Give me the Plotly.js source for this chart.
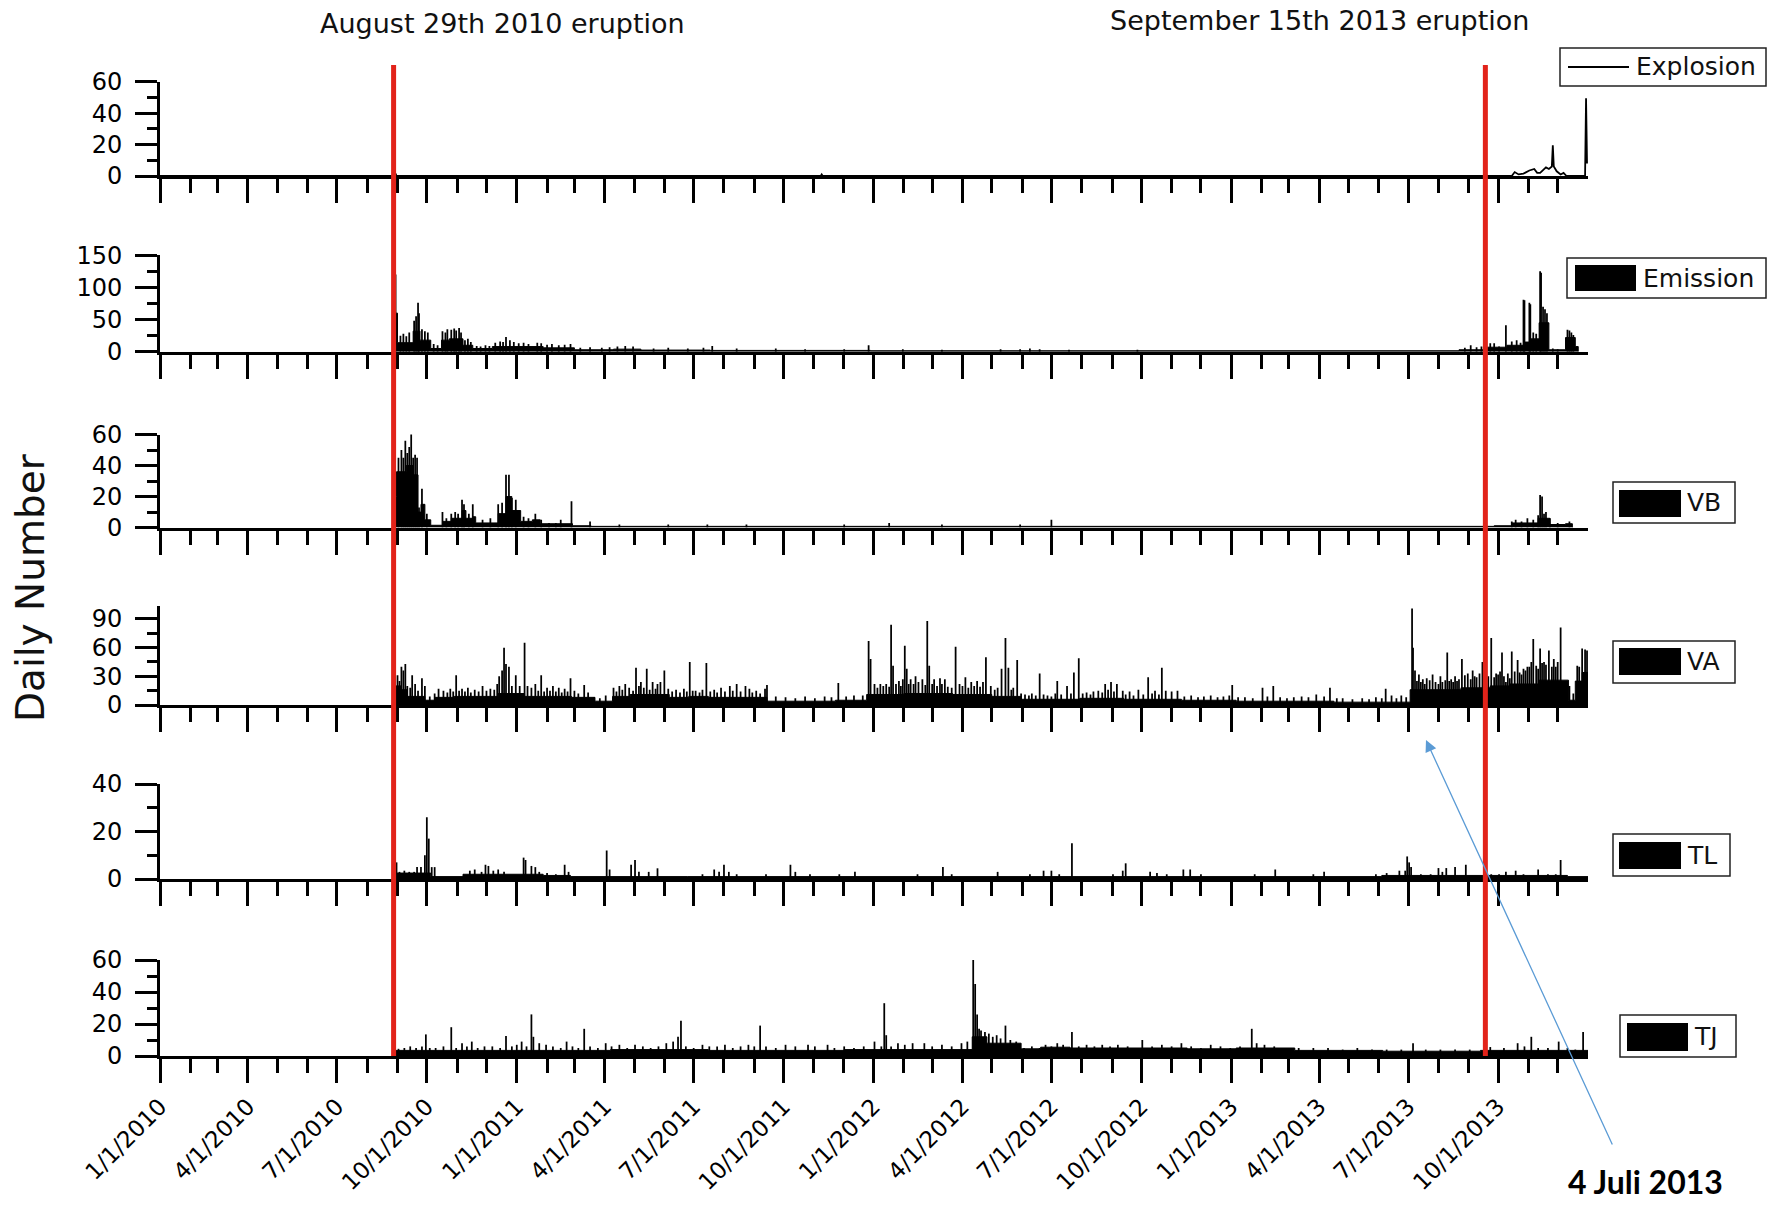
<!DOCTYPE html>
<html>
<head>
<meta charset="utf-8">
<script src="https://cdn.plot.ly/plotly-3.0.1.min.js"></script>
<style>html,body{margin:0;padding:0;background:#fff}#chart{width:1779px;height:1208px}</style>
</head>
<body>
<div id="chart"></div>
<script>
// ---------------- DATA (day offsets from 1 Jan 2010) ----------------
const seriesNames = ["Explosion", "Emission", "VB", "VA", "TL", "TJ"];
const eruptionDates = ["2010-08-28", "2013-09-18"];
const eruptionLabels = ["August 29th 2010 eruption", "September 15th 2013 eruption"];
const tickDates = ["2010-01-01", "2010-04-01", "2010-07-01", "2010-10-01", "2011-01-01", "2011-04-01", "2011-07-01", "2011-10-01",
  "2012-01-01", "2012-04-01", "2012-07-01", "2012-10-01", "2013-01-01", "2013-04-01", "2013-07-01", "2013-10-01"];
const tickLabels = ["1/1/2010", "4/1/2010", "7/1/2010", "10/1/2010", "1/1/2011", "4/1/2011", "7/1/2011", "10/1/2011",
  "1/1/2012", "4/1/2012", "7/1/2012", "10/1/2012", "1/1/2013", "4/1/2013", "7/1/2013", "10/1/2013"];

// Explosion (line)
const expDay = [0, 240, 241, 242, 676, 677, 678, 1383, 1386, 1390, 1395, 1401, 1406, 1409, 1412, 1416, 1418, 1421, 1424, 1425, 1426, 1429, 1433, 1436, 1439, 1458, 1459, 1460];
const expVal = [0, 0, 1.5, 0, 0, 1, 0, 0, 2.5, 1, 1.5, 3.5, 4.5, 2, 2, 4, 5.5, 4.5, 6, 19.5, 6, 3, 1, 2, 0, 0, 49.5, 8];

// Emission
const emBaseDay = [240, 243, 259, 266, 277, 288, 296, 310, 320, 340, 392, 424, 464, 492, 563, 727, 1329, 1355, 1378, 1396, 1402, 1411, 1421, 1438, 1448, 1451];
const emBaseVal = [60, 14, 32, 18, 5, 18, 20, 10, 5, 8, 6, 3, 4, 2.5, 2, 1.5, 3, 7, 10, 15, 20, 45, 3, 22, 8, 0];
const emPeakDay = [240, 241, 246, 249, 252, 255, 260, 262, 264, 265, 268, 271, 274, 280, 284, 289, 292, 294, 298, 301, 303, 306, 308, 312, 315, 318, 324, 328, 333, 337, 343, 348, 351, 354, 358, 362, 367, 372, 377, 386, 390, 396, 401, 408, 414, 420, 430, 440, 452, 460, 468, 476, 484, 505, 520, 540, 556, 565, 590, 630, 660, 700, 725, 760, 800, 860, 880, 890, 900, 930, 1000, 1335, 1341, 1347, 1352, 1361, 1365, 1370, 1377, 1383, 1388, 1392, 1395, 1396, 1401, 1402, 1405, 1408, 1412, 1413, 1415, 1417, 1419, 1425, 1430, 1440, 1442, 1444, 1446];
const emPeakVal = [146, 120, 25, 28, 24, 30, 48, 55, 76, 60, 35, 32, 30, 12, 10, 32, 30, 35, 34, 36, 33, 37, 30, 18, 20, 15, 9, 8, 10, 9, 14, 16, 15, 23, 18, 15, 13, 14, 12, 14, 13, 11, 12, 10, 11, 12, 6, 7, 6, 7, 8, 9, 8, 5, 6, 5, 6, 9, 5, 5, 4, 4, 10, 4, 3, 4, 4, 5, 4, 3, 3, 6, 10, 7, 8, 13, 13, 8, 41, 16, 18, 14, 81, 80, 76, 74, 30, 28, 125, 123, 70, 66, 60, 5, 4, 34, 33, 30, 26];

// VB
const vbBaseDay = [240, 242, 252, 259, 264, 267, 271, 277, 289, 298, 309, 313, 320, 323, 346, 354, 360, 369, 381, 389, 422, 441, 1365, 1383, 1410, 1422, 1438, 1445];
const vbBaseVal = [20, 36, 40, 34, 10, 15, 5, 1.5, 4, 6, 11, 6, 7, 3, 9, 20, 11, 4, 5, 2.5, 1.2, 0.8, 1.2, 3, 6, 2, 2.5, 0];
const vbPeakDay = [244, 247, 249, 251, 253, 255, 257, 259, 261, 263, 265, 268, 273, 289, 293, 298, 302, 305, 309, 311, 316, 320, 330, 338, 346, 350, 354, 357, 360, 364, 372, 377, 384, 390, 398, 405, 410, 421, 440, 470, 520, 560, 600, 700, 746, 800, 880, 912, 1383, 1387, 1393, 1399, 1405, 1410, 1412, 1414, 1416, 1418, 1422, 1430, 1442];
const vbPeakVal = [45, 50, 45, 56, 48, 52, 61, 45, 47, 45, 13, 25, 9, 10, 6, 9, 10, 9, 18, 15, 9, 15, 5, 6, 15, 16, 34, 34, 19, 18, 7, 6, 9, 5, 3, 3, 5, 17, 4, 2, 2, 2, 2, 2, 3, 2, 2, 5, 4, 5, 4, 6, 5, 8, 21, 20, 9, 10, 6, 3, 4];

// VA
const vaBaseDay = [240, 247, 253, 271, 281, 301, 346, 373, 421, 445, 463, 481, 521, 541, 561, 601, 621, 691, 723, 761, 811, 851, 881, 941, 986, 1045, 1101, 1201, 1279, 1331, 1361, 1381, 1411, 1441, 1448, 1455, 1462];
const vaBaseVal = [20, 16, 9, 5, 8, 9, 12, 9, 8, 4, 9, 11, 8, 9, 8, 8, 4, 5, 11, 12, 11, 9, 6, 7, 6, 5, 4, 3, 16, 18, 20, 22, 26, 5, 25, 34, 0];
const vaPeakDay = [243, 245, 247, 249, 251, 253, 256, 258, 261, 264, 268, 271, 276, 281, 285, 290, 294, 297, 300, 303, 306, 309, 312, 315, 318, 322, 326, 330, 334, 338, 342, 345, 347, 350, 352, 354, 357, 360, 364, 368, 373, 376, 380, 384, 387, 390, 393, 396, 399, 402, 405, 408, 411, 414, 417, 420, 424, 428, 434, 438, 444, 450, 456, 464, 467, 470, 473, 476, 480, 484, 487, 490, 492, 495, 498, 501, 504, 507, 509, 512, 516, 520, 524, 528, 532, 536, 539, 542, 545, 548, 552, 555, 559, 563, 567, 570, 574, 578, 583, 586, 590, 594, 599, 603, 606, 610, 614, 619, 621, 630, 640, 650, 660, 670, 680, 687, 694, 702, 710, 719, 725, 727, 731, 734, 737, 740, 743, 746, 748, 750, 753, 756, 758, 760, 762, 764, 766, 768, 771, 773, 776, 780, 783, 785, 787, 790, 792, 795, 798, 800, 803, 806, 810, 814, 818, 821, 824, 827, 830, 833, 836, 839, 842, 845, 850, 854, 857, 861, 865, 868, 871, 873, 877, 881, 885, 889, 892, 896, 900, 904, 908, 912, 916, 918, 922, 928, 932, 935, 940, 944, 948, 952, 955, 960, 964, 967, 970, 973, 976, 979, 985, 988, 992, 996, 1001, 1006, 1011, 1015, 1018, 1022, 1025, 1029, 1035, 1041, 1048, 1055, 1062, 1068, 1075, 1082, 1088, 1094, 1097, 1103, 1110, 1118, 1128, 1133, 1139, 1146, 1153, 1160, 1168, 1175, 1183, 1191, 1197, 1204, 1210, 1220, 1230, 1237, 1244, 1250, 1254, 1260, 1265, 1270, 1275, 1281, 1282, 1284, 1286, 1288, 1290, 1292, 1294, 1296, 1299, 1302, 1305, 1308, 1310, 1312, 1315, 1317, 1319, 1321, 1323, 1325, 1327, 1329, 1332, 1335, 1338, 1341, 1343, 1345, 1347, 1350, 1353, 1355, 1357, 1359, 1362, 1365, 1367, 1369, 1371, 1373, 1375, 1377, 1379, 1381, 1383, 1386, 1389, 1391, 1393, 1395, 1397, 1399, 1401, 1403, 1405, 1408, 1410, 1412, 1414, 1416, 1418, 1421, 1424, 1426, 1428, 1430, 1433, 1436, 1439, 1442, 1446, 1450, 1452, 1455, 1458, 1460];
const vaPeakVal = [31, 25, 40, 36, 43, 20, 18, 31, 22, 15, 28, 20, 9, 12, 17, 15, 13, 17, 14, 31, 15, 17, 14, 18, 13, 16, 14, 20, 15, 17, 16, 22, 30, 36, 60, 43, 40, 20, 31, 20, 65, 20, 18, 22, 15, 31, 14, 18, 15, 20, 14, 18, 13, 17, 14, 28, 15, 12, 21, 13, 8, 7, 10, 18, 14, 20, 16, 22, 18, 15, 39, 20, 24, 18, 38, 16, 24, 17, 22, 24, 36, 17, 14, 16, 13, 17, 14, 45, 15, 15, 13, 16, 44, 14, 16, 13, 18, 14, 20, 15, 22, 14, 20, 17, 13, 15, 12, 17, 21, 9, 8, 7, 9, 7, 9, 8, 23, 9, 10, 10, 67, 48, 22, 18, 22, 20, 22, 19, 84, 41, 22, 25, 20, 27, 62, 38, 22, 27, 22, 30, 24, 27, 21, 88, 41, 22, 27, 20, 28, 22, 27, 19, 18, 61, 22, 20, 29, 18, 24, 20, 25, 19, 24, 50, 20, 16, 18, 38, 70, 39, 16, 18, 47, 12, 11, 10, 12, 10, 33, 11, 10, 9, 12, 25, 11, 20, 12, 34, 49, 12, 13, 11, 14, 15, 13, 22, 16, 24, 14, 22, 15, 11, 14, 10, 16, 11, 29, 12, 15, 11, 39, 15, 14, 15, 9, 10, 8, 9, 10, 8, 9, 10, 21, 8, 8, 7, 18, 9, 20, 8, 7, 8, 9, 8, 11, 9, 18, 7, 7, 6, 7, 6, 8, 7, 17, 10, 7, 10, 8, 101, 60, 36, 25, 32, 24, 27, 22, 28, 26, 32, 24, 22, 30, 24, 26, 55, 25, 27, 24, 30, 25, 27, 48, 31, 33, 27, 36, 30, 29, 33, 45, 31, 28, 30, 70, 29, 33, 32, 35, 55, 30, 24, 33, 28, 56, 35, 47, 34, 32, 38, 36, 40, 40, 45, 69, 41, 38, 59, 44, 45, 42, 57, 40, 48, 40, 45, 81, 24, 18, 20, 12, 41, 40, 59, 58, 57];

// TL
const tlBaseDay = [240, 277, 310, 392, 420, 540, 1250, 1440, 1462];
const tlBaseVal = [2.5, 1, 2, 1.5, 1, 1, 1.5, 1, 0];
const tlPeakDay = [242, 245, 250, 255, 260, 263, 267, 271, 273, 275, 278, 281, 317, 322, 329, 333, 336, 341, 346, 352, 372, 374, 380, 384, 388, 396, 405, 414, 418, 457, 460, 482, 486, 490, 500, 509, 555, 567, 572, 577, 582, 590, 620, 645, 650, 665, 695, 711, 775, 801, 810, 857, 890, 904, 912, 920, 933, 975, 985, 988, 1013, 1020, 1030, 1047, 1054, 1065, 1120, 1141, 1180, 1191, 1244, 1255, 1268, 1274, 1276, 1278, 1280, 1290, 1300, 1308, 1312, 1316, 1325, 1336, 1362, 1370, 1377, 1387, 1395, 1410, 1420, 1428, 1433];
const tlPeakVal = [7, 3, 3.5, 3, 3, 5, 5, 10, 26, 17, 5, 5, 3.5, 4, 3, 6, 5.5, 3.5, 4, 3, 9, 8, 5.5, 5, 3, 2.5, 2, 6, 3, 12, 4, 6, 8, 3, 3, 4.5, 2, 4, 3, 6, 3, 2, 2, 6, 3, 2, 2, 3, 2, 5, 2, 3, 2, 3.5, 3.5, 2, 15, 2, 3.5, 6.6, 3, 2.5, 2, 4, 4, 2, 2, 4, 2, 3, 2, 2.5, 3.5, 3.5, 9.5, 7, 5, 2, 2, 4.6, 3, 4.6, 5, 6, 2, 2, 3, 3.5, 2, 4, 2, 2, 8];

// TJ
const tjBaseDay = [241, 461, 561, 700, 831, 846, 881, 901, 931, 1051, 1101, 1161, 1251, 1351, 1461];
const tjBaseVal = [3.5, 4, 3.5, 4, 12, 8, 4.5, 5.5, 5, 4.5, 5, 3.5, 3, 3.5, 0];
const tjPeakDay = [244, 250, 256, 262, 268, 272, 276, 282, 290, 298, 303, 309, 314, 319, 325, 332, 340, 348, 354, 360, 365, 370, 375, 380, 382, 388, 395, 402, 410, 416, 422, 428, 434, 440, 448, 456, 462, 470, 478, 486, 494, 502, 510, 518, 525, 530, 533, 538, 546, 555, 562, 570, 578, 586, 594, 602, 608, 614, 620, 630, 640, 650, 663, 670, 683, 690, 700, 710, 720, 731, 738, 741, 743, 748, 755, 762, 770, 782, 790, 800, 810, 820, 826, 832, 834, 836, 838, 840, 844, 848, 852, 856, 860, 865, 870, 876, 884, 892, 900, 906, 912, 918, 924, 933, 940, 948, 956, 964, 972, 980, 990, 1005, 1015, 1025, 1035, 1045, 1055, 1065, 1075, 1085, 1095, 1105, 1117, 1122, 1130, 1140, 1150, 1165, 1180, 1195, 1210, 1225, 1240, 1255, 1270, 1282, 1295, 1310, 1325, 1340, 1361, 1375, 1389, 1396, 1403, 1410, 1420, 1431, 1440, 1448, 1456];
const tjPeakVal = [4.5, 5, 6, 5, 6, 13.5, 5, 5, 6, 18, 5, 8, 6, 9, 5, 6, 6, 5, 12.5, 6, 7, 9, 6, 26, 12, 8, 7, 6, 5, 9, 6, 5, 17, 6, 5, 8, 6, 7, 5, 7, 6, 5, 6, 8, 9, 12, 22, 6, 5, 7, 6, 6, 7, 5, 6, 7, 6, 19, 6, 5, 7, 6, 7, 6, 7, 5, 6, 5, 6, 9, 6, 33, 13, 6, 8, 7, 8, 8, 6, 7, 6, 8, 9, 60, 45, 26, 17, 16, 15, 14, 12, 13, 11, 19, 10, 9, 5, 6, 5, 7, 6, 8, 7, 15, 6, 7, 6, 7, 6, 7, 6, 10, 6, 7, 6, 8, 6, 5, 7, 6, 5, 6, 17, 8, 7, 6, 5, 5, 5, 5, 4, 5, 4, 4, 4, 8, 4, 4, 4, 4, 5.6, 5, 8, 6, 12, 5, 5, 9, 5, 4, 15];

// ---------------- CHART ----------------
const W = 1779, H = 1208;
const px = x => x / W;
const py = y => 1 - y / H;
const DAY = 86400000;
const toDate = d => new Date(Date.UTC(2010, 0, 1) + d * DAY).toISOString().slice(0, 10);
const dates = arr => arr.map(toDate);
const minorDates = [];
for (let y = 2010; y <= 2013; y++) for (let m = 1; m <= 12; m++) minorDates.push(y + "-" + String(m).padStart(2, "0") + "-01");

const FONT = "DejaVu Sans, Liberation Sans, Arial, sans-serif";
const yTop = [60, 150, 60, 104, 40, 60];
const yDtick = [20, 50, 20, 30, 20, 20];
const yMinor = [10, 25, 10, 15, 10, 10];
const panelPx = [[176, 81.7], [351.7, 255.3], [527.6, 434.5], [705, 605.6], [879, 784], [1056, 960]];

const traces = [];
traces.push({type: "scatter", mode: "lines", x: dates(expDay), y: expVal, xaxis: "x", yaxis: "y",
  line: {color: "black", width: 1.8}, hoverinfo: "skip"});

const barSets = [
  [emBaseDay, emBaseVal, emPeakDay, emPeakVal],
  [vbBaseDay, vbBaseVal, vbPeakDay, vbPeakVal],
  [vaBaseDay, vaBaseVal, vaPeakDay, vaPeakVal],
  [tlBaseDay, tlBaseVal, tlPeakDay, tlPeakVal],
  [tjBaseDay, tjBaseVal, tjPeakDay, tjPeakVal]
];
barSets.forEach((s, k) => {
  const i = k + 2;
  traces.push({type: "scatter", mode: "lines", x: dates(s[0]), y: s[1], xaxis: "x" + i, yaxis: "y" + i,
    line: {color: "black", width: 1, shape: "hv"}, fill: "tozeroy", fillcolor: "black", hoverinfo: "skip"});
  traces.push({type: "bar", x: dates(s[2]), y: s[3], xaxis: "x" + i, yaxis: "y" + i,
    width: 1.8 * DAY, marker: {color: "black", line: {width: 0}}, hoverinfo: "skip"});
});

const layout = {
  width: W, height: H,
  margin: {l: 0, r: 0, t: 0, b: 0, pad: 0},
  paper_bgcolor: "white", plot_bgcolor: "white",
  showlegend: false, barmode: "overlay",
  font: {family: FONT, color: "black"},
  shapes: [], annotations: []
};

for (let i = 1; i <= 6; i++) {
  const sfx = i === 1 ? "" : String(i);
  const [zeroPx, topPx] = panelPx[i - 1];
  layout["xaxis" + sfx] = {
    type: "date", domain: [px(160), px(1588)], anchor: "y" + sfx,
    range: ["2010-01-01", "2014-01-01"],
    showline: true, linecolor: "black", linewidth: 3,
    ticks: "outside", ticklen: 24, tickwidth: 3, tickcolor: "black",
    tickmode: "array", tickvals: tickDates, ticktext: tickLabels,
    minor: {ticks: "outside", tickmode: "array", tickvals: minorDates, ticklen: 14, tickwidth: 3, tickcolor: "black", showgrid: false},
    showgrid: false, zeroline: false,
    showticklabels: i === 6, tickangle: -45,
    tickfont: {family: FONT, size: 23, color: "black"}, ticklabelstandoff: 1,
    fixedrange: true
  };
  layout["yaxis" + sfx] = {
    domain: [py(zeroPx), py(topPx)], anchor: "x" + sfx,
    range: [0, yTop[i - 1]],
    showline: true, linecolor: "black", linewidth: 3,
    ticks: "outside", ticklen: 22, tickwidth: 3, tickcolor: "black",
    tick0: 0, dtick: yDtick[i - 1],
    minor: {ticks: "outside", tick0: 0, dtick: yMinor[i - 1], ticklen: 10, tickwidth: 3, tickcolor: "black", showgrid: false},
    showgrid: false, zeroline: false,
    tickfont: {family: FONT, size: 24, color: "black"}, ticklabelstandoff: 8,
    fixedrange: true
  };
}

eruptionDates.forEach(d => {
  layout.shapes.push({type: "line", xref: "x", yref: "paper", x0: d, x1: d, y0: py(1056), y1: py(65),
    line: {color: "#e2231a", width: 5}});
});

layout.annotations.push({text: eruptionLabels[0], xref: "paper", yref: "paper", x: px(502), y: py(24),
  xanchor: "center", yanchor: "middle", showarrow: false, font: {family: FONT, size: 27, color: "#111"}});
layout.annotations.push({text: eruptionLabels[1], xref: "paper", yref: "paper", x: px(1319), y: py(21),
  xanchor: "center", yanchor: "middle", showarrow: false, font: {family: FONT, size: 27, color: "#111"}});

layout.annotations.push({text: "Daily Number", xref: "paper", yref: "paper", x: px(31), y: py(588),
  xanchor: "center", yanchor: "middle", textangle: -90, showarrow: false, font: {family: FONT, size: 39, color: "#111"}});

const legendBoxes = [
  {box: [1560, 48, 1766, 86], sym: "line", s: [1568, 67, 1629, 67], tx: 1634, ty: 67},
  {box: [1567, 258, 1766, 298], sym: "rect", s: [1575, 265, 1636, 291], tx: 1641, ty: 278},
  {box: [1613, 482, 1735, 523], sym: "rect", s: [1619, 490, 1681, 517], tx: 1685, ty: 503},
  {box: [1613, 641, 1735, 683], sym: "rect", s: [1619, 648, 1681, 675], tx: 1685, ty: 661},
  {box: [1613, 834, 1730, 876], sym: "rect", s: [1619, 842, 1681, 869], tx: 1685, ty: 855},
  {box: [1620, 1015, 1736, 1057], sym: "rect", s: [1627, 1023, 1688, 1051], tx: 1692, ty: 1036}
];
legendBoxes.forEach((L, k) => {
  layout.shapes.push({type: "rect", xref: "paper", yref: "paper", x0: px(L.box[0]), x1: px(L.box[2]),
    y0: py(L.box[3]), y1: py(L.box[1]), line: {color: "#222", width: 1.5}, fillcolor: "white"});
  if (L.sym === "line") {
    layout.shapes.push({type: "line", xref: "paper", yref: "paper", x0: px(L.s[0]), x1: px(L.s[2]),
      y0: py(L.s[1]), y1: py(L.s[3]), line: {color: "black", width: 2}});
  } else {
    layout.shapes.push({type: "rect", xref: "paper", yref: "paper", x0: px(L.s[0]), x1: px(L.s[2]),
      y0: py(L.s[3]), y1: py(L.s[1]), line: {width: 0}, fillcolor: "black"});
  }
  layout.annotations.push({text: seriesNames[k], xref: "paper", yref: "paper", x: px(L.tx), y: py(L.ty),
    xanchor: "left", yanchor: "middle", showarrow: false, font: {family: FONT, size: 25, color: "#111"}});
});

layout.annotations.push({text: "", xref: "paper", yref: "paper", x: px(1426), y: py(740),
  ax: 1613 - 1426, ay: 1146 - 740, showarrow: true, arrowhead: 2, arrowsize: 1.8, arrowwidth: 1.3,
  arrowcolor: "#5b9bd5"});
layout.annotations.push({text: "<b>4 Juli 2013</b>", xref: "paper", yref: "paper", x: px(1566), y: py(1203),
  xanchor: "left", yanchor: "bottom", showarrow: false, font: {family: "Lato, Liberation Sans, sans-serif", size: 32, color: "black"}});

Plotly.newPlot("chart", traces, layout, {staticPlot: true, displayModeBar: false});
</script>
</body>
</html>
